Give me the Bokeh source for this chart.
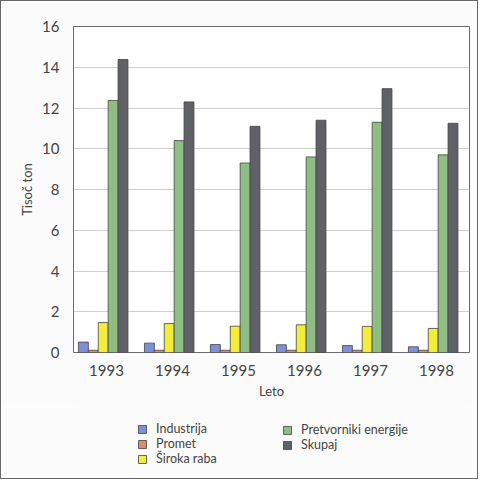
from bokeh.plotting import figure
from bokeh.layouts import column
from bokeh.models import ColumnDataSource, FactorRange, FixedTicker, Legend, LegendItem, Range1d
from bokeh.transform import dodge
from bokeh.embed import file_html
from bokeh.resources import INLINE

years = ["1993", "1994", "1995", "1996", "1997", "1998"]
industrija = [0.51, 0.46, 0.39, 0.38, 0.34, 0.28]
promet = [0.11, 0.11, 0.11, 0.11, 0.11, 0.11]
siroka_raba = [1.47, 1.42, 1.29, 1.36, 1.28, 1.18]
pretvorniki = [12.37, 10.4, 9.3, 9.6, 11.3, 9.7]
skupaj = [14.38, 12.3, 11.1, 11.4, 12.95, 11.25]
y_ticks = [0, 2, 4, 6, 8, 10, 12, 14, 16]

names = ["Industrija", "Promet", "Široka raba", "Pretvorniki energije", "Skupaj"]
colors = ["#7c8fd8", "#d98b6c", "#f2ec3a", "#8fbd84", "#5f6166"]
cols = ["ind", "pro", "sir", "pre", "sku"]

src = ColumnDataSource(dict(year=years, ind=industrija, pro=promet, sir=siroka_raba,
                            pre=pretvorniki, sku=skupaj))

FONT = "Lato"
BG = "#fbfbfb"
TXT = "#444444"

p = figure(width=476, height=405, x_range=FactorRange(*years, range_padding=0),
           y_range=Range1d(0, 16), output_backend="svg", toolbar_location=None,
           min_border_left=72, min_border_right=8, min_border_top=25, min_border_bottom=54)
p.background_fill_color = "white"
p.border_fill_color = BG
p.outline_line_color = "#6a6a6a"
p.outline_line_width = 1

w = 0.15
for i in range(5):
    off = -0.05 + (i - 2) * w
    p.vbar(x=dodge("year", off, range=p.x_range), top=cols[i], width=w, source=src,
           fill_color=colors[i], line_color="#444444", line_width=0.8)

p.xgrid.grid_line_color = None
p.ygrid.grid_line_color = "#cfcfcf"
p.ygrid.grid_line_width = 1
p.yaxis.ticker = FixedTicker(ticks=y_ticks)

for ax in (p.xaxis[0], p.yaxis[0]):
    ax.axis_line_color = None
    ax.major_tick_line_color = None
    ax.minor_tick_line_color = None
    ax.major_label_text_font = FONT
    ax.major_label_text_font_size = "15px"
    ax.major_label_text_color = TXT
    ax.axis_label_text_font = FONT
    ax.axis_label_text_font_style = "normal"
    ax.axis_label_text_font_size = "13px"
    ax.axis_label_text_color = TXT

p.xaxis.axis_label = "Leto"
p.yaxis.axis_label = "Tisoč ton"
p.xaxis.major_label_standoff = 6
p.xaxis.axis_label_standoff = 4
p.yaxis.major_label_standoff = 8
p.yaxis.axis_label_standoff = 4

# legend panel: a second figure holding only the legend (its bars lie outside its view)
lf = figure(width=476, height=72, output_backend="svg", toolbar_location=None,
            min_border=0, x_range=FactorRange(*years), y_range=Range1d(100, 101))
lf.axis.visible = False
lf.grid.visible = False
lf.outline_line_color = None
lf.background_fill_color = BG
lf.border_fill_color = BG

lrs = [lf.vbar(x="year", top=cols[i], width=0.1, source=src, fill_color=colors[i],
               line_color="#444444", line_width=0.8) for i in range(5)]

def make_legend(idx, loc):
    return Legend(items=[LegendItem(label=names[i], renderers=[lrs[i]]) for i in idx],
                  location=loc, orientation="vertical", padding=0, margin=0, spacing=0,
                  glyph_width=10, glyph_height=10, label_height=14, label_standoff=9,
                  label_text_font=FONT, label_text_font_size="12.5px", label_text_color=TXT,
                  label_text_line_height=1.0,
                  border_line_color=None, background_fill_alpha=0)

lf.add_layout(make_legend([0, 1, 2], (64, 12)))
lf.add_layout(make_legend([3, 4], (209, 26)))

layout = column(p, lf, spacing=0, styles={"border": "1px solid #666"})

open("out.html", "w").write(file_html(layout, INLINE))
